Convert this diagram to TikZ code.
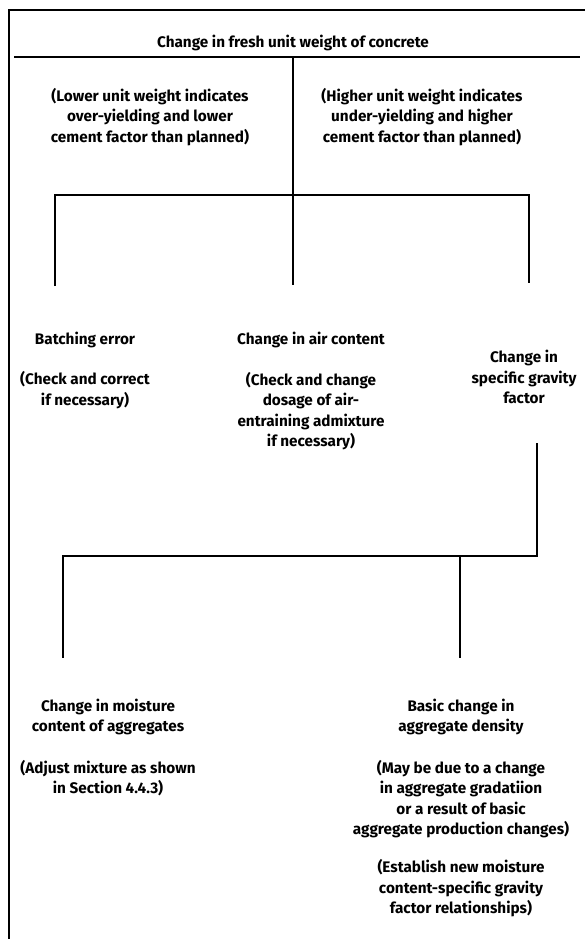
\documentclass[tikz,border=0pt]{standalone}
\usepackage{fontspec}
\setmainfont{Fira Sans}
\begin{document}
\begin{tikzpicture}[x=1pt,y=-1pt,
  txt/.style={font=\bfseries\fontsize{15.3}{20.5}\selectfont, align=center, inner sep=0pt},
  conn/.style={line width=2pt},
  frame/.style={line width=2pt},
  thinframe/.style={line width=1.2pt}]
\useasboundingbox (0,0) rectangle (585,939);
\fill[white] (0,0) rectangle (585,939);

% text nodes
\node[txt] (title) at (293,43) {Change in fresh unit weight of concrete};
\node[txt] (low) at (150,117) {(Lower unit weight indicates\\over-yielding and lower\\cement factor than planned)};
\node[txt] (high) at (422,117) {(Higher unit weight indicates\\under-yielding and higher\\cement factor than planned)};
\node[txt] (batch) at (85,340) {Batching error};
\node[txt] (batchp) at (85,390) {(Check and correct\\if necessary)};
\node[txt] (air) at (311,340) {Change in air content};
\node[txt] (airp) at (311,411) {(Check and change\\dosage of air-\\entraining admixture\\if necessary)};
\node[txt] (sg) at (524,377) {Change in\\specific gravity\\factor};
\node[txt] (moist) at (108,717) {Change in moisture\\content of aggregates};
\node[txt] (moistp) at (108,778) {(Adjust mixture as shown\\in Section 4.4.3)};
\node[txt] (dens) at (461,717) {Basic change in\\aggregate density};
\node[txt] (densp) at (461,799) {(May be due to a change\\in aggregate gradatiion\\or a result of basic\\aggregate production changes)};
\node[txt] (est) at (461,888.5) {(Establish new moisture\\content-specific gravity\\factor relationships)};

% frame coordinates
\coordinate (ftl) at (8,10);
\coordinate (ftr) at (585,10);
\coordinate (fl) at (9,10);
\coordinate (fb) at (9,939);
\coordinate (ul) at (14,57);
\coordinate (ur) at (580,57);

% tree coordinates
\coordinate (r0) at (293,57);
\coordinate (r2) at (293,285);
\coordinate (b0) at (55,195);
\coordinate (b1) at (55,286);
\coordinate (s0) at (529,195);
\coordinate (s1) at (529,283);
\coordinate (g0) at (537,443);
\coordinate (g1) at (537,556);
\coordinate (m0) at (63,556);
\coordinate (m1) at (63,658);
\coordinate (d0) at (460,556);
\coordinate (d1) at (460,658);

\draw[thinframe] (ftl) -- (ftr);
\draw[frame] (fl) -- (fb);
\draw[frame] (ul) -- (ur);

\draw[conn] (r0) -- (r2);
\draw[conn] (b1) -- (b0) -- (s0) -- (s1);
\draw[conn] (g0) -- (g1) -- (m0) -- (m1);
\draw[conn] (d0) -- (d1);
\end{tikzpicture}
\end{document}
